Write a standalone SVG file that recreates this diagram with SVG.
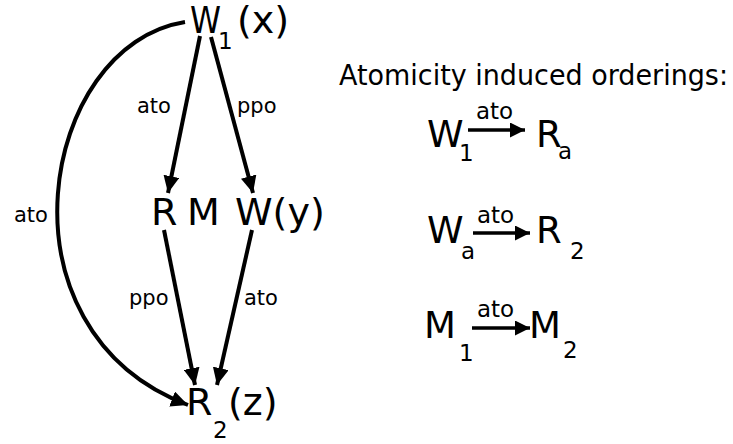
<svg xmlns="http://www.w3.org/2000/svg" width="733" height="444" viewBox="0 0 733 444">
<style>
text{font-family:"DejaVu Sans","Liberation Sans",sans-serif;fill:#000}
.big{font-size:38px}
.sub{font-size:23px}
.lbl{font-size:21px}
.hd{font-size:29px}
.rb{font-size:37px}
.rl{font-size:23px}
.e{fill:none;stroke:#000;stroke-width:4}
.e2{fill:none;stroke:#000;stroke-width:3.5}
</style>
<defs>
<marker id="ah" markerUnits="userSpaceOnUse" markerWidth="18" markerHeight="16" refX="17" refY="8" orient="auto"><path d="M0,0 L17,8 L0,16 z" fill="#000"/></marker>
<marker id="ah2" markerUnits="userSpaceOnUse" markerWidth="16" markerHeight="16" refX="15" refY="7.5" orient="auto"><path d="M0,0 L15,7.5 L0,15 z" fill="#000"/></marker>
</defs>
<g id="connectors">
<path class="e" d="M200,36 L168,193" marker-end="url(#ah)"/>
<path class="e" d="M211,37 L253,193" marker-end="url(#ah)"/>
<path class="e" d="M164,230 L195,385" marker-end="url(#ah)"/>
<path class="e" d="M252,230 L217,385" marker-end="url(#ah)"/>
<path class="e" d="M185,22 C40,45 -10,330 188,405" marker-end="url(#ah)"/>
<text class="lbl" x="137" y="113">ato</text>
<text class="lbl" x="237" y="113">ppo</text>
<text class="lbl" x="14" y="222">ato</text>
<text class="lbl" x="129" y="305">ppo</text>
<text class="lbl" x="244" y="305">ato</text>
</g>
<g id="n-w1x">
<text class="big" x="190" y="33" textLength="31" lengthAdjust="spacingAndGlyphs">W</text>
<text class="sub" x="218" y="49">1</text>
<text class="big" x="237" y="33">(x)</text>
</g>
<g id="n-r"><text class="big" x="151" y="225">R</text></g>
<g id="n-m"><text class="big" x="187" y="225">M</text></g>
<g id="n-wy"><text class="big" x="235" y="225">W(y)</text></g>
<g id="n-r2z">
<text class="big" x="186" y="415">R</text>
<text class="sub" x="213" y="438">2</text>
<text class="big" x="228" y="415">(z)</text>
</g>
<g id="legend">
<text class="hd" x="339" y="85" textLength="389" lengthAdjust="spacingAndGlyphs">Atomicity induced orderings:</text>
<g id="o1">
<text class="rb" x="427" y="147">W</text>
<text class="sub" x="459" y="161">1</text>
<path class="e2" d="M468,130 L525,130" marker-end="url(#ah2)"/>
<text class="rl" x="476" y="119">ato</text>
<text class="rb" x="536" y="147">R</text>
<text class="sub" x="558" y="159">a</text>
</g>
<g id="o2">
<text class="rb" x="427" y="243">W</text>
<text class="sub" x="461" y="259">a</text>
<path class="e2" d="M473,233 L530,233" marker-end="url(#ah2)"/>
<text class="rl" x="477" y="223">ato</text>
<text class="rb" x="536" y="243">R</text>
<text class="sub" x="570" y="259">2</text>
</g>
<g id="o3">
<text class="rb" x="424" y="338">M</text>
<text class="sub" x="459" y="361">1</text>
<path class="e2" d="M472,328 L530,328" marker-end="url(#ah2)"/>
<text class="rl" x="477" y="317">ato</text>
<text class="rb" x="529" y="338">M</text>
<text class="sub" x="563" y="358">2</text>
</g>
</g>
</svg>
